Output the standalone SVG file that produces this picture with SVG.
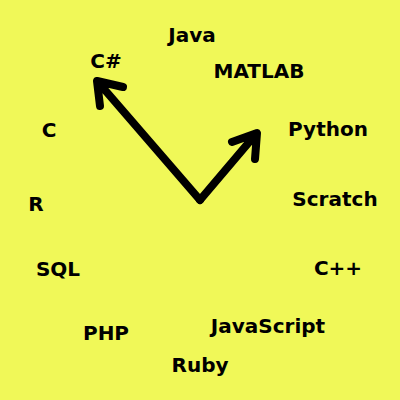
<svg xmlns="http://www.w3.org/2000/svg" width="400" height="400" viewBox="0 0 400 400">
<style>
text{font-family:"DejaVu Sans","Liberation Sans",sans-serif;font-weight:bold;font-size:20px;fill:#000;text-anchor:middle}
.arr{fill:none;stroke:#000;stroke-width:8;stroke-linecap:round;stroke-linejoin:round}
</style>
<rect width="400" height="400" fill="#f0f858"/>
<g id="connectors">
<path class="arr" d="M200,200 L98,82 M123,87 L97,81 L100,106"/>
<path class="arr" d="M200,200 L256,134 M232,142 L257,133 L255,159"/>
</g>
<g id="n-java"><text x="192" y="42">Java</text></g>
<g id="n-csharp"><text x="106" y="68">C#</text></g>
<g id="n-matlab"><text x="259" y="78">MATLAB</text></g>
<g id="n-c"><text x="49" y="137">C</text></g>
<g id="n-python"><text x="328" y="136">Python</text></g>
<g id="n-r"><text x="36" y="211">R</text></g>
<g id="n-scratch"><text x="335" y="206">Scratch</text></g>
<g id="n-sql"><text x="58" y="276">SQL</text></g>
<g id="n-cpp"><text x="338" y="275">C++</text></g>
<g id="n-php"><text x="106" y="340">PHP</text></g>
<g id="n-javascript"><text x="268" y="333">JavaScript</text></g>
<g id="n-ruby"><text x="200" y="372">Ruby</text></g>
</svg>
